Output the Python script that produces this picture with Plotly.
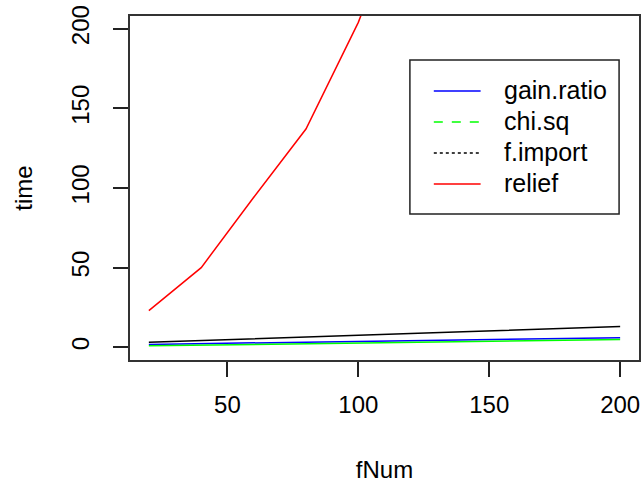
import plotly.graph_objects as go

fNum = [20, 40, 60, 80, 100, 120, 140, 160, 180, 200]
gain_ratio = [1.8, 2.3, 2.8, 3.2, 3.7, 4.2, 4.7, 5.1, 5.6, 6.0]
chi_sq = [0.9, 1.3, 1.8, 2.2, 2.6, 3.1, 3.5, 4.0, 4.4, 4.9]
f_import = [3.2, 4.2, 5.3, 6.4, 7.5, 8.6, 9.7, 10.8, 11.9, 13.0]
relief = [23, 50, 94, 137, 204, 290, 390, 510, 650, 810]

names = ["gain.ratio", "chi.sq", "f.import", "relief"]
colors = ["#0000FF", "#00FF00", "#000000", "#FF0000"]
dashes = ["solid", "dash", "dot", "solid"]
series = [gain_ratio, chi_sq, f_import, relief]

FONT = "Liberation Sans, Arial, sans-serif"
W, H = 642, 483
ML, MR, MT, MB = 130, 1, 16, 123
PW, PH = W - ML - MR, H - MT - MB


def px_x(p):
    return (p - ML) / PW


def px_y(p):
    return (H - MB - p) / PH


fig = go.Figure()
for nm, c, s in zip(names, colors, series):
    fig.add_trace(go.Scatter(x=fNum, y=s, mode="lines", name=nm,
                             line=dict(color=c, width=1.5), showlegend=False))

# legend drawn manually (R-style box legend)
shapes = [dict(type="rect", xref="paper", yref="paper",
               x0=px_x(411), x1=px_x(621), y0=px_y(214), y1=px_y(60),
               line=dict(color="#222222", width=1.5), fillcolor="white", layer="above")]
annotations = []
row_y = [91, 122, 153, 184]
for nm, c, d, ry in zip(names, colors, dashes, row_y):
    shapes.append(dict(type="line", xref="paper", yref="paper",
                       x0=px_x(435), x1=px_x(482), y0=px_y(ry), y1=px_y(ry),
                       line=dict(color=c, width=1.5, dash=d), layer="above"))
    annotations.append(dict(xref="paper", yref="paper", x=px_x(503), y=px_y(ry - 1),
                            xanchor="left", yanchor="middle", showarrow=False,
                            text=nm, font=dict(family=FONT, size=25, color="#000000")))

fig.update_layout(
    width=W, height=H,
    margin=dict(l=ML, r=MR, t=MT, b=MB),
    paper_bgcolor="white", plot_bgcolor="white",
    font=dict(family=FONT, size=24, color="#000000"),
    showlegend=False,
    shapes=shapes, annotations=annotations,
    xaxis=dict(range=[12.8, 207.2], tickvals=[50, 100, 150, 200],
               ticks="outside", ticklen=15, tickwidth=1.5, tickcolor="#222222",
               showline=True, linecolor="#333333", linewidth=1.5, mirror=True,
               showgrid=False, zeroline=False,
               title=dict(text="fNum", standoff=45, font=dict(size=24)),
               ticklabelstandoff=7),
    yaxis=dict(range=[-8, 208], tickvals=[0, 50, 100, 150, 200],
               ticks="outside", ticklen=15, tickwidth=1.5, tickcolor="#222222",
               tickangle=-90,
               showline=True, linecolor="#333333", linewidth=1.5, mirror=True,
               showgrid=False, zeroline=False,
               title=dict(text="time", standoff=27, font=dict(size=24)),
               ticklabelstandoff=15),
)
fig.write_html("out.html")
